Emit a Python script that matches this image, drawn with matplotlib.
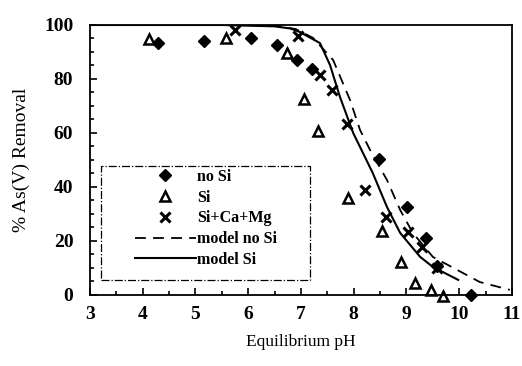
import matplotlib
matplotlib.use("Agg")
import matplotlib.pyplot as plt
from matplotlib.patches import Rectangle
from matplotlib.ticker import MultipleLocator

plt.rcParams["font.family"] = ["Liberation Serif", "DejaVu Serif"]
plt.rcParams["font.weight"] = "bold"

# measured removal (%) vs equilibrium pH
ph_no_si = [4.29, 5.16, 6.05, 6.54, 6.92, 7.21, 8.48, 9.01, 9.37, 9.58, 10.22]
rem_no_si = [93.3, 94.0, 95.0, 92.6, 87.0, 83.7, 50.4, 32.6, 21.0, 10.7, 0.0]

ph_si = [4.12, 5.58, 6.73, 7.06, 7.32, 7.89, 8.54, 8.90, 9.16, 9.46, 9.69]
rem_si = [94.8, 95.0, 89.6, 72.6, 60.7, 36.0, 23.7, 12.2, 4.4, 1.9, -0.5]

ph_si_ca_mg = [5.75, 6.94, 7.36, 7.59, 7.87, 8.21, 8.61, 9.03, 9.29, 9.58]
rem_si_ca_mg = [98.0, 96.0, 81.5, 76.0, 63.3, 38.9, 28.9, 23.3, 17.8, 10.0]

# surface complexation model curves
ph_model_no_si = [3.0, 5.5, 6.5, 6.9, 7.23, 7.61, 7.93, 8.12, 8.31, 8.63, 8.88,
                  9.12, 9.50, 9.96, 10.39, 10.96]
rem_model_no_si = [100.0, 100.0, 99.8, 98.5, 95.2, 87.0, 72.2, 61.1, 53.7, 42.6,
                   31.5, 23.0, 14.1, 9.3, 4.8, 1.9]

ph_model_si = [3.0, 5.5, 6.5, 6.8, 6.98, 7.36, 7.55, 7.74, 7.99, 8.36, 8.63,
               8.88, 9.26, 9.50, 9.98]
rem_model_si = [100.0, 100.0, 99.5, 98.7, 97.4, 93.3, 85.2, 73.3, 60.0, 45.2,
                32.6, 23.0, 14.1, 10.4, 5.6]

fig = plt.figure(figsize=(5.22, 3.66), dpi=100)
ax = fig.add_axes([0.1724, 0.194, 0.8084, 0.7377])

ax.plot(ph_no_si, rem_no_si, "D", color="black", ms=6, ls="none",
        label="no Si", clip_on=False)
ax.plot(ph_si, rem_si, "^", mfc="white", mec="black", mew=1.8, ms=7, ls="none",
        label="Si", clip_on=False)
ax.plot(ph_si_ca_mg, rem_si_ca_mg, "x", color="black", mew=2.2, ms=7, ls="none",
        label="Si+Ca+Mg", clip_on=False)
ax.plot(ph_model_no_si, rem_model_no_si, color="black", lw=1.3,
        ls=(0, (6, 4)), label="model no Si")
ax.plot(ph_model_si, rem_model_si, color="black", lw=1.5, label="model Si")

ax.set_xlim(3, 11)
ax.set_ylim(0, 100)
ax.xaxis.set_major_locator(MultipleLocator(1))
ax.xaxis.set_minor_locator(MultipleLocator(0.5))
ax.yaxis.set_major_locator(MultipleLocator(20))
ax.yaxis.set_minor_locator(MultipleLocator(5))
ax.tick_params(which="both", direction="in", labelsize=14, width=1.2)
ax.tick_params(which="major", length=5, pad=8)
ax.tick_params(which="minor", length=3)
ax.tick_params(axis="y", pad=12)
for s in ax.spines.values():
    s.set_linewidth(1.3)

ax.set_xlabel("Equilibrium pH", fontsize=12.5, labelpad=8)
ax.set_ylabel("% As(V) Removal", fontsize=14, labelpad=10)

# legend without its own frame; dash-dot box drawn separately
leg = ax.legend(loc="upper left", bbox_to_anchor=(0.1066, 0.467),
                fontsize=11.5, handlelength=3.8, handletextpad=0.1,
                labelspacing=0.3, borderpad=0, borderaxespad=0,
                frameon=False)
ax.add_patch(Rectangle((0.026, 0.056), 0.495, 0.422, transform=ax.transAxes,
                       fill=False, ec="black", lw=0.9, ls="-.", zorder=1))

fig.savefig("out.png", dpi=100)
